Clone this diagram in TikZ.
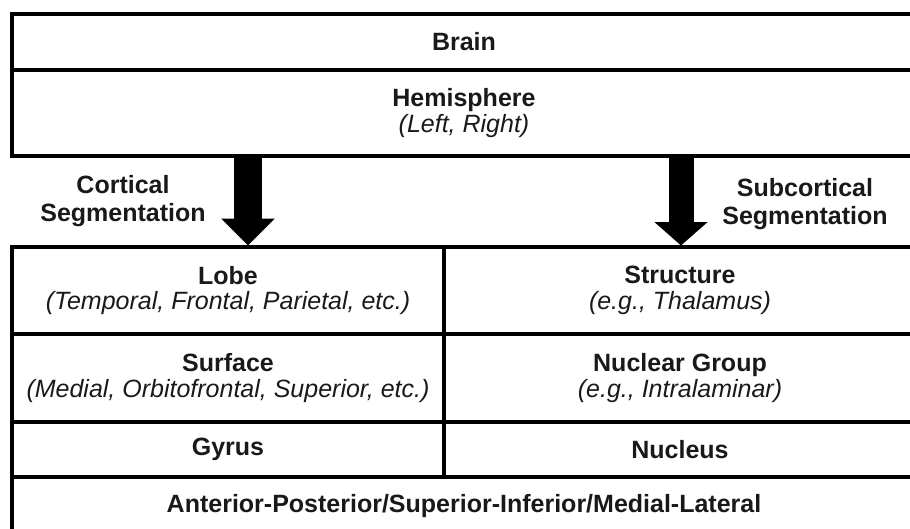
\documentclass[tikz,border=0pt]{standalone}
\usepackage{fontspec}
\setmainfont{Liberation Sans}
\usetikzlibrary{arrows.meta}
\begin{document}
\begin{tikzpicture}[x=1pt,y=-1pt,
  cell/.style={draw, line width=3.5pt, inner sep=0pt, outer sep=0pt, anchor=north west,
    align=center, text=black!90, font=\fontsize{25}{25.5}\selectfont},
  lbl/.style={align=center, text=black!90, font=\fontsize{25}{28}\selectfont\bfseries},
  arrowL/.style={line width=28pt, -{Triangle[length=27pt,width=52pt]}},
  arrowR/.style={line width=25pt, -{Triangle[length=23.5pt,width=52pt]}}]
\useasboundingbox (0,0) rectangle (910,528);
\clip (0,0) rectangle (910,528);
% top block
\node[cell, minimum width=904pt, minimum height=56pt] (brain) at (12,14) {\textbf{Brain}};
\node[cell, minimum width=904pt, minimum height=86pt] (hem) at (12,70) {\textbf{Hemisphere}\\\textit{(Left, Right)}};
% lower block, left column
\node[cell, minimum width=432pt, minimum height=87pt] (lobe) at (12,247) {\textbf{Lobe}\\\textit{(Temporal, Frontal, Parietal, etc.)}};
\node[cell, minimum width=432pt, minimum height=88pt] (surf) at (12,334) {\textbf{Surface}\\\textit{(Medial, Orbitofrontal, Superior, etc.)}};
\node[cell, minimum width=432pt, minimum height=55pt] (gyrus) at (12,422) {\textbf{Gyrus}};
% lower block, right column
\node[cell, minimum width=472pt, minimum height=87pt] (struct) at (444,247) {\textbf{Structure}\\\textit{(e.g., Thalamus)}};
\node[cell, minimum width=472pt, minimum height=88pt] (nucg) at (444,334) {\textbf{Nuclear Group}\\\textit{(e.g., Intralaminar)}};
\node[cell, minimum width=472pt, minimum height=55pt] (nucl) at (444,422) {\textbf{Nucleus}};
% bottom row
\node[cell, minimum width=904pt, minimum height=58pt] (axes) at (12,477) {\textbf{Anterior-Posterior/Superior-Inferior/Medial-Lateral}};
% arrows
\coordinate (la) at (248,0);
\coordinate (ra) at (681,0);
\draw[arrowL] (hem.south -| la) -- ([yshift=1.5pt]lobe.north -| la);
\draw[arrowR] (hem.south -| ra) -- ([yshift=1.5pt]struct.north -| ra);
% labels
\node[lbl] (cort) at (123,201) {Cortical\\Segmentation};
\node[lbl] (subc) at (805,204) {Subcortical\\Segmentation};
\end{tikzpicture}
\end{document}
